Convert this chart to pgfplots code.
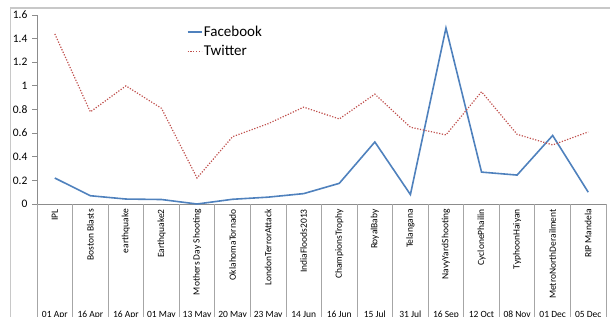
\documentclass[border=0pt]{standalone}
\usepackage{pgfplots}
\pgfplotsset{compat=1.18}
\usepackage{fontspec}
\setmainfont{Carlito}
\definecolor{fb}{HTML}{4F81BD}
\definecolor{tw}{HTML}{C0504D}
\definecolor{axgray}{HTML}{8C8C8C}
\definecolor{sepgray}{HTML}{A6A6A6}
\definecolor{bordergray}{HTML}{C8C8C8}
\begin{document}
\begin{tikzpicture}
\begin{axis}[
  at={(37pt,112pt)}, anchor=south west,
  scale only axis, width=569pt, height=189pt,
  xmin=0, xmax=16, ymin=0, ymax=1.6,
  clip=false,
  axis x line*=bottom, axis y line*=left,
  axis line style={axgray, line width=0.8pt, -},
  tick align=outside, major tick length=5pt,
  ytick={0,0.2,0.4,0.6,0.8,1,1.2,1.4,1.6},
  ytick style={axgray, line width=0.8pt},
  yticklabel style={/pgf/number format/fixed, /pgf/number format/precision=1, /pgf/number format/assume math mode=true, font=\fontsize{11.5}{12}\selectfont, xshift=-1pt},
  xtick={0.5,1.5,2.5,3.5,4.5,5.5,6.5,7.5,8.5,9.5,10.5,11.5,12.5,13.5,14.5,15.5},
  xtick style={draw=none},
  xticklabels={IPL, Boston Blasts, earthquake, Earthquake2, Mothers Day Shooting, OklahomaTornado, LondonTerrorAttack, IndiaFloods2013, ChampionsTrophy, RoyalBaby, Telangana, NavyYardShooting, CyclonePhailin, TyphoonHaiyan, MetroNorthDerailment, RIP Mandela},
  xticklabel style={rotate=90, anchor=east, inner sep=0pt, font=\fontsize{9.5}{10}\selectfont, yshift=0pt},
  legend style={at={(0.263,0.95)}, anchor=north west, draw=none, fill=none, font=\fontsize{15}{17}\selectfont, row sep=4.5pt, inner sep=0pt, nodes={inner sep=1.5pt}},
  legend cell align=left,
  legend image code/.code={\draw[#1] (0pt,0pt) -- (14pt,0pt);},
]
\addplot[fb, line width=1.6pt, mark=none] coordinates {
(0.5,0.22) (1.5,0.07) (2.5,0.042) (3.5,0.038) (4.5,0.0) (5.5,0.04) (6.5,0.058) (7.5,0.088)
(8.5,0.175) (9.5,0.525) (10.5,0.08) (11.5,1.49) (12.5,0.27) (13.5,0.245) (14.5,0.58) (15.5,0.10)};
\addlegendentry{Facebook}
\addplot[tw, line width=1.2pt, mark=none, dash pattern=on 1.2pt off 1.6pt] coordinates {
(0.5,1.44) (1.5,0.78) (2.5,1.00) (3.5,0.81) (4.5,0.22) (5.5,0.57) (6.5,0.68) (7.5,0.82)
(8.5,0.72) (9.5,0.93) (10.5,0.65) (11.5,0.585) (12.5,0.95) (13.5,0.59) (14.5,0.50) (15.5,0.61)};
\addlegendentry{Twitter}
\pgfplotsinvokeforeach{0,...,16}{\draw[sepgray, line width=0.8pt] (axis cs:#1,0) -- ++(0pt,-115pt);}
\node[anchor=base, yshift=-113pt, font=\fontsize{9.5}{10}\selectfont] at (axis cs:0.5,0) {01 Apr};
\node[anchor=base, yshift=-113pt, font=\fontsize{9.5}{10}\selectfont] at (axis cs:1.5,0) {16 Apr};
\node[anchor=base, yshift=-113pt, font=\fontsize{9.5}{10}\selectfont] at (axis cs:2.5,0) {16 Apr};
\node[anchor=base, yshift=-113pt, font=\fontsize{9.5}{10}\selectfont] at (axis cs:3.5,0) {01 May};
\node[anchor=base, yshift=-113pt, font=\fontsize{9.5}{10}\selectfont] at (axis cs:4.5,0) {13 May};
\node[anchor=base, yshift=-113pt, font=\fontsize{9.5}{10}\selectfont] at (axis cs:5.5,0) {20 May};
\node[anchor=base, yshift=-113pt, font=\fontsize{9.5}{10}\selectfont] at (axis cs:6.5,0) {23 May};
\node[anchor=base, yshift=-113pt, font=\fontsize{9.5}{10}\selectfont] at (axis cs:7.5,0) {14 Jun};
\node[anchor=base, yshift=-113pt, font=\fontsize{9.5}{10}\selectfont] at (axis cs:8.5,0) {16 Jun};
\node[anchor=base, yshift=-113pt, font=\fontsize{9.5}{10}\selectfont] at (axis cs:9.5,0) {15 Jul};
\node[anchor=base, yshift=-113pt, font=\fontsize{9.5}{10}\selectfont] at (axis cs:10.5,0) {31 Jul};
\node[anchor=base, yshift=-113pt, font=\fontsize{9.5}{10}\selectfont] at (axis cs:11.5,0) {16 Sep};
\node[anchor=base, yshift=-113pt, font=\fontsize{9.5}{10}\selectfont] at (axis cs:12.5,0) {12 Oct};
\node[anchor=base, yshift=-113pt, font=\fontsize{9.5}{10}\selectfont] at (axis cs:13.5,0) {08 Nov};
\node[anchor=base, yshift=-113pt, font=\fontsize{9.5}{10}\selectfont] at (axis cs:14.5,0) {01 Dec};
\node[anchor=base, yshift=-113pt, font=\fontsize{9.5}{10}\selectfont] at (axis cs:15.5,0) {05 Dec};
\end{axis}
\draw[bordergray, line width=1.6pt] (10pt,308pt) -- (610pt,308pt);
\draw[bordergray, line width=1pt] (10.5pt,-2pt) -- (10.5pt,308.8pt);
\pgfresetboundingbox
\useasboundingbox (0,0) rectangle (610pt,316pt);
\end{tikzpicture}
\end{document}
